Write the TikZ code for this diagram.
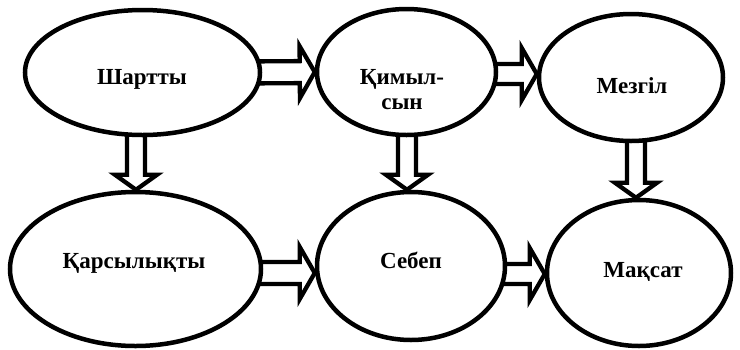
\documentclass[tikz,border=0pt]{standalone}
\usepackage{fontspec}
\setmainfont{Liberation Serif}
\usetikzlibrary{shapes.geometric,calc,backgrounds}
\newcommand\blkarrow[4]{%
  \path ($(#2)!15pt!(#1)$) coordinate (ab);
  \draw[blockarr] ($(#1)!#3!90:(#2)$) -- ($(ab)!#3!90:(#2)$) -- ($(ab)!#4!90:(#2)$) -- (#2)
    -- ($(ab)!#4!-90:(#2)$) -- ($(ab)!#3!-90:(#2)$) -- ($(#1)!#3!-90:(#2)$) -- cycle;}
\begin{document}
\begin{tikzpicture}[x=1pt,y=-1pt,
  oval/.style={ellipse,draw,line width=4.5pt,fill=white,inner sep=0pt},
  lbl/.style={inner sep=0pt,font=\bfseries\fontsize{23}{25}\selectfont,align=center},
  blockarr/.style={draw,fill=white,line width=4.3pt,line join=miter,miter limit=10}]
\useasboundingbox (0,0) rectangle (740,349);
\node[oval,minimum width=235pt,minimum height=125pt] (E1) at (142.5,72.5) {};
\node[oval,minimum width=179pt,minimum height=126pt] (E2) at (406.5,72) {};
\node[oval,minimum width=184pt,minimum height=127pt] (E3) at (631,77.5) {};
\node[oval,minimum width=251pt,minimum height=154pt] (E4) at (135.5,269) {};
\node[oval,minimum width=188pt,minimum height=148pt] (E5) at (411,266) {};
\node[oval,minimum width=184pt,minimum height=146pt] (E6) at (639,273) {};
\node[lbl,anchor=base] (L1) at (142,84) {Шартты};
\node[lbl,anchor=north] (L2) at (402,69) {Қимыл-\\сын};
\node[lbl,anchor=base] (L3) at (632,93) {Мезгіл};
\node[lbl,anchor=base] (L4) at (134,268) {Қарсылықты};
\node[lbl,anchor=base] (L5) at (411,268) {Себеп};
\node[lbl,anchor=base] (L6) at (643,277) {Мақсат};
\begin{pgfonlayer}{background}
\coordinate (s1) at ($(E1.east)+(-20,0)$);
\coordinate (t1) at (E2.west);
\coordinate (s2) at ($(E2.east)+(-20,2)$);
\coordinate (t2) at ($(E3.west)+(0,-3.5)$);
\coordinate (s3) at ($(E4.east)+(-20,4)$);
\coordinate (t3) at ($(E5.west)+(0,7)$);
\coordinate (s4) at ($(E5.east)+(-20,8)$);
\coordinate (t4) at ($(E6.west)+(0,1)$);
\coordinate (s5) at ($(E1.south)+(-6.5,-20)$);
\coordinate (t5) at ($(E4.north)+(0.5,0)$);
\coordinate (s6) at ($(E2.south)+(0.5,-20)$);
\coordinate (t6) at ($(E5.north)+(-4,0)$);
\coordinate (s7) at ($(E3.south)+(5,-20)$);
\coordinate (t7) at ($(E6.north)+(-3,0)$);
\blkarrow{s1}{t1}{11pt}{26pt}
\blkarrow{s2}{t2}{10pt}{26pt}
\blkarrow{s3}{t3}{11pt}{26pt}
\blkarrow{s4}{t4}{10pt}{26pt}
\blkarrow{s5}{t5}{9pt}{21pt}
\blkarrow{s6}{t6}{9pt}{21pt}
\blkarrow{s7}{t7}{9pt}{21pt}
\end{pgfonlayer}
\end{tikzpicture}
\end{document}
